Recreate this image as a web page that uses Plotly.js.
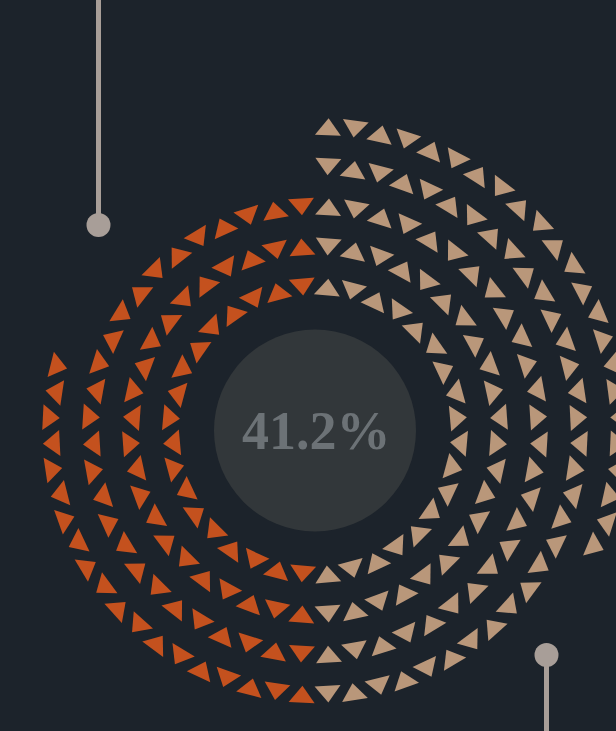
<!DOCTYPE html>
<html>
<head>
<meta charset="utf-8">
<script src="https://cdn.plot.ly/plotly-3.0.1.min.js"></script>
<style>html,body{margin:0;padding:0;background:#1c232b;overflow:hidden}#chart{width:616px;height:731px}</style>
</head>
<body>
<div id="chart"></div>
<script>
// One entry per ring, innermost first
var ringRadius = [144, 184, 224, 264, 304];
var ringSlots  = [36, 44, 52, 64, 72];
var tanCounts  = [18, 22, 26, 32, 23];
var orangeCounts = [18, 22, 26, 19, 0];
var centerLabel = "41.2%";
var connectorTop = {x: [-216.5, -216.5], y: [430.5, 205.5]};
var connectorBottom = {x: [231.5, 231.5], y: [-300.5, -224.5]};

var TAN = "#b9977a", ORANGE = "#c4511e", BG = "#1c232b";
var MARKER_SIZE = 22.5;
var RADIAL_SHIFT = MARKER_SIZE * 0.125; // centres each triangle's height on its ring

function ringTrace(counts, offsetSlots, color, name) {
  var x = [], y = [], ang = [];
  ringRadius.forEach(function (r, ring) {
    var step = 360 / ringSlots[ring];
    var startSlot = offsetSlots(ring);
    var firstOut = ring % 2 === 0;
    for (var k = 0; k < counts[ring]; k++) {
      var slot = startSlot + k;
      var th = (slot + 0.5) * step;
      var rad = th * Math.PI / 180;
      var out = (slot % 2 === 0) === firstOut;
      var rr = r + (out ? -RADIAL_SHIFT : RADIAL_SHIFT);
      x.push(rr * Math.sin(rad));
      y.push(rr * Math.cos(rad));
      ang.push(out ? th : th + 180);
    }
  });
  return {
    type: "scatter", mode: "markers", name: name, x: x, y: y, hoverinfo: "skip",
    cliponaxis: true,
    marker: {symbol: "triangle-up", size: MARKER_SIZE, color: color, angle: ang, line: {width: 0}}
  };
}

function connector(c) {
  return {
    type: "scatter", mode: "lines", x: c.x, y: c.y, hoverinfo: "skip",
    line: {color: "#a89e98", width: 5}
  };
}
function dot(c) {
  return {
    type: "scatter", mode: "markers", x: [c.x[1]], y: [c.y[1]], hoverinfo: "skip",
    marker: {color: "#a89e98", size: 24, line: {width: 0}}
  };
}

var traces = [
  ringTrace(tanCounts, function () { return 0; }, TAN, "tan"),
  ringTrace(orangeCounts, function (i) { return ringSlots[i] / 2; }, ORANGE, "orange"),
  connector(connectorTop), dot(connectorTop),
  connector(connectorBottom), dot(connectorBottom)
];

var layout = {
  width: 616, height: 731,
  margin: {l: 0, r: 0, t: 0, b: 0},
  paper_bgcolor: BG, plot_bgcolor: BG,
  showlegend: false,
  xaxis: {range: [-315, 301], visible: false, fixedrange: true},
  yaxis: {range: [-300.5, 430.5], visible: false, fixedrange: true},
  shapes: [{type: "circle", xref: "x", yref: "y", x0: -101, x1: 101, y0: -101, y1: 101,
            fillcolor: "#32373a", line: {width: 0}, layer: "below"}],
  annotations: [{x: 1, y: 0, xref: "x", yref: "y", text: "<b>" + centerLabel + "</b>", showarrow: false,
                 font: {family: "Liberation Serif", size: 54, color: "#6c7276"}}]
};
Plotly.newPlot("chart", traces, layout, {displayModeBar: false, staticPlot: true});
</script>
</body>
</html>
